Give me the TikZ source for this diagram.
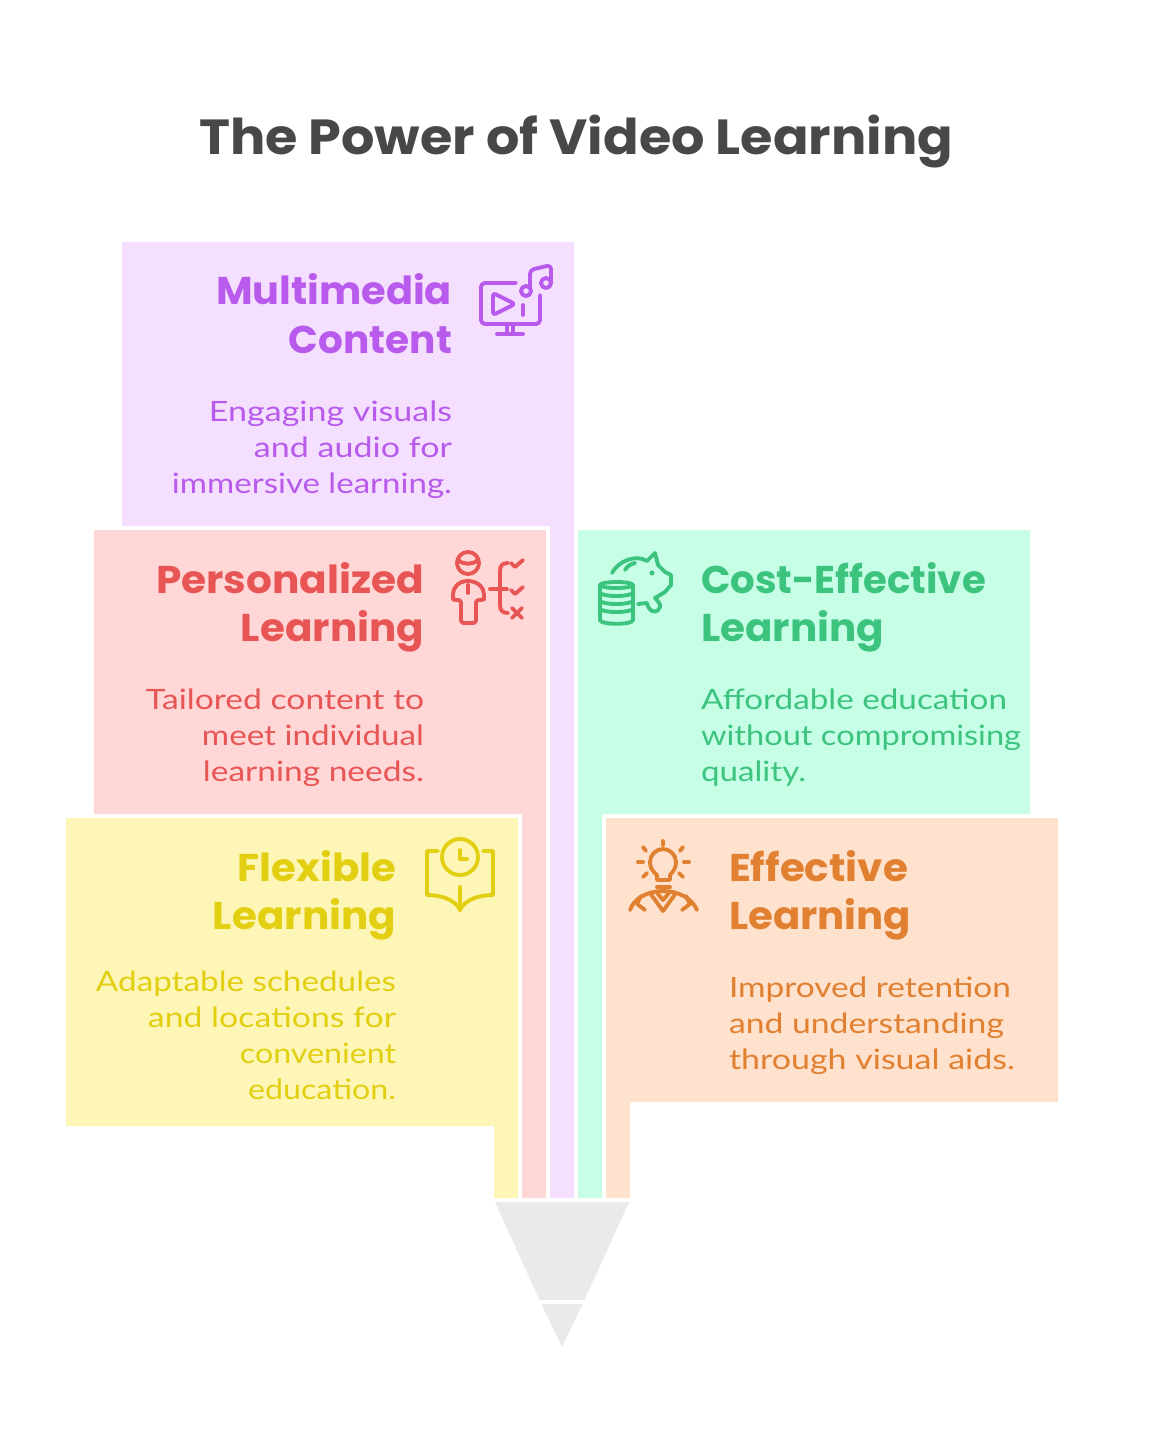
\documentclass[tikz,border=0pt]{standalone}
\usepackage{fontspec}
\usepackage{graphicx}
\newfontfamily\headfont{Poppins}[BoldFont={Poppins Bold}]
\newfontfamily\bodyfont{Lato}
\newdimen\pxu \pxu=0.75pt
\newcommand{\fitw}[2]{\resizebox{#1\pxu}{\height}{#2}}
\definecolor{cpurpleF}{HTML}{F4E0FE}\definecolor{cpurple}{HTML}{B85AEB}
\definecolor{credF}{HTML}{FFD7D7}\definecolor{cred}{HTML}{E85555}
\definecolor{cyellowF}{HTML}{FEF6B6}\definecolor{cyellow}{HTML}{E2CF12}
\definecolor{cgreenF}{HTML}{C6FFE6}\definecolor{cgreen}{HTML}{3CC47F}
\definecolor{corangeF}{HTML}{FFE2CD}\definecolor{corange}{HTML}{E08030}
\definecolor{ctitle}{HTML}{484848}\definecolor{cfunnel}{HTML}{EAEAEA}
\tikzset{
 txt/.style={inner sep=0pt,outer sep=0pt},
 head/.style={txt,font=\headfont\bfseries\fontsize{29}{29}\selectfont},
 body/.style={txt,font=\bodyfont\fontsize{21}{21}\selectfont},
 ttl/.style={txt,font=\headfont\bfseries\fontsize{37}{37}\selectfont,text=ctitle},
 icon/.style={line width=2.9pt,line cap=round,line join=round,fill=none},
}
\begin{document}
\begin{tikzpicture}[x=0.75pt,y=-0.75pt]
\useasboundingbox (0,0) rectangle (1152,1448);
\fill[white] (0,0) rectangle (1152,1448);
% panels
\fill[cpurpleF] (122,242)--(574,242)--(574,1198)--(550,1198)--(550,526)--(122,526)--cycle;
\fill[credF] (94,530)--(546,530)--(546,1198)--(522,1198)--(522,814)--(94,814)--cycle;
\fill[cyellowF] (66,818)--(518,818)--(518,1198)--(494,1198)--(494,1126)--(66,1126)--cycle;
\fill[cgreenF] (578,530)--(1030,530)--(1030,814)--(602,814)--(602,1198)--(578,1198)--cycle;
\fill[corangeF] (606,818)--(1058,818)--(1058,1102)--(630,1102)--(630,1198)--(606,1198)--cycle;
% funnel
\fill[cfunnel] (495,1202)--(629,1202)--(584.5,1300)--(539.5,1300)--cycle;
\fill[cfunnel] (541.5,1304)--(582.5,1304)--(562,1347)--cycle;
% title
\node[ttl,anchor=base west] (title) at (199,155) {\fitw{754}{The Power of Video Learning}};
% purple text
\begin{scope}[text=cpurple]
\node[head,anchor=base east] (p1) at (452,305) {\fitw{236}{Multimedia}};
\node[head,anchor=base east] (p2) at (452,353) {\fitw{163}{Content}};
\node[body,anchor=base east] (p3) at (452,421) {\fitw{243}{Engaging visuals}};
\node[body,anchor=base east] (p4) at (452,457) {\fitw{198}{and audio for}};
\node[body,anchor=base east] (p5) at (452,493) {\fitw{280}{immersive learning.}};
\end{scope}
% red text
\begin{scope}[text=cred]
\node[head,anchor=base east] (r1) at (424,593) {\fitw{268}{Personalized}};
\node[head,anchor=base east] (r2) at (424,641) {\fitw{183}{Learning}};
\node[body,anchor=base east] (r3) at (424,709) {\fitw{278}{Tailored content to}};
\node[body,anchor=base east] (r4) at (424,745) {\fitw{222}{meet individual}};
\node[body,anchor=base east] (r5) at (424,781) {\fitw{221}{learning needs.}};
\end{scope}
% yellow text
\begin{scope}[text=cyellow]
\node[head,anchor=base east] (y1) at (396,881) {\fitw{158}{Flexible}};
\node[head,anchor=base east] (y2) at (396,929) {\fitw{183}{Learning}};
\node[body,anchor=base east] (y3) at (396,991) {\fitw{300}{Adaptable schedules}};
\node[body,anchor=base east] (y4) at (396,1027) {\fitw{248}{and locations for}};
\node[body,anchor=base east] (y5) at (396,1063) {\fitw{156}{convenient}};
\node[body,anchor=base east] (y6) at (396,1099) {\fitw{148}{education.}};
\end{scope}
% green text
\begin{scope}[text=cgreen]
\node[head,anchor=base west] (g1) at (701,593) {\fitw{285}{Cost-Effective}};
\node[head,anchor=base west] (g2) at (701,641) {\fitw{183}{Learning}};
\node[body,anchor=base west] (g3) at (701,709) {\fitw{306}{Affordable education}};
\node[body,anchor=base west] (g4) at (701,745) {\fitw{320}{without compromising}};
\node[body,anchor=base west] (g5) at (701,781) {\fitw{105}{quality.}};
\end{scope}
% orange text
\begin{scope}[text=corange]
\node[head,anchor=base west] (o1) at (729,881) {\fitw{179}{Effective}};
\node[head,anchor=base west] (o2) at (729,929) {\fitw{182}{Learning}};
\node[body,anchor=base west] (o3) at (729,997) {\fitw{282}{Improved retention}};
\node[body,anchor=base west] (o4) at (729,1033) {\fitw{275}{and understanding}};
\node[body,anchor=base west] (o5) at (729,1069) {\fitw{286}{through visual aids.}};
\end{scope}
% purple icon
\begin{scope}[icon,draw=cpurple]
\draw[rounded corners=3pt] (516,283)--(481,283)--(481,324)--(540,324)--(540,295);
\draw[rounded corners=2pt] (493,293)--(493,315)--(515,304)--cycle;
\draw (523,305)--(523,315);
\draw (507,325)--(507,333) (513,325)--(513,333);
\draw (497,334)--(523,334);
\draw (526,291) circle[radius=5];
\draw (546,283) circle[radius=5];
\draw[rounded corners=3pt] (530,288)--(530,270)--(551,265)--(551,283);
\end{scope}
% red icon
\begin{scope}[icon,draw=cred]
\draw (468,563) circle[radius=11];
\draw (458,560) .. controls (464,565) and (472,565) .. (478,560);
\draw[rounded corners=2pt] (468,581) .. controls (458,581) and (453,588) .. (453,597)--(453,600)--(461,600)--(461,623)--(476,623)--(476,600)--(484,600)--(484,597) .. controls (484,588) and (478,581) .. (468,581);
\draw (468,585)--(468,593);
\draw (508,563) .. controls (502,563) and (500,566) .. (500,571)--(500,605) .. controls (500,610) and (502,613) .. (508,613);
\draw (490,589)--(507,589);
\draw (511,563)--(515,567)--(523,560);
\draw (511,590)--(515,594)--(523,587);
\draw (512,608)--(522,618) (522,608)--(512,618);
\end{scope}
% green icon
\begin{scope}[icon,draw=cgreen]
\draw (616.5,585) ellipse[x radius=16.5,y radius=3];
\draw (600,585)--(600,620) .. controls (600,625) and (633,625) .. (633,620)--(633,585);
\draw (600,593) .. controls (604,597) and (629,597) .. (633,593);
\draw (600,601) .. controls (604,605) and (629,605) .. (633,601);
\draw (600,609) .. controls (604,613) and (629,613) .. (633,609);
\draw (612,573) .. controls (618,561) and (636,554) .. (647,561)--(655,553)--(658,565)--(665,572)--(671,575)--(671,585)--(665,592)--(655,598) .. controls (658,601) and (661,605) .. (660,607) .. controls (658,613) and (652,613) .. (649,608) .. controls (648,606) and (647,605) .. (647,603)--(638,604);
\draw (625,570) .. controls (627,566) and (631,564) .. (635,563);
\fill[cgreen] (652,573) circle[radius=2.5];
\end{scope}
% yellow icon
\begin{scope}[icon,draw=cyellow]
\draw (460,857) circle[radius=18];
\draw (460,850)--(460,859)--(467,859);
\draw (438,851)--(427,851)--(427,895) .. controls (440,895) and (455,899) .. (460,910);
\draw (483,851)--(493,851)--(493,895) .. controls (480,895) and (465,899) .. (460,910);
\draw (460,887)--(460,910);
\end{scope}
% orange icon
\begin{scope}[icon,draw=corange]
\draw (657,880)--(657,875) .. controls (652,871) and (650,867) .. (650,862) .. controls (650,855) and (656,849) .. (663,849) .. controls (670,849) and (676,855) .. (676,862) .. controls (676,867) and (674,871) .. (670,875)--(670,880)--cycle;
\draw (657,887)--(670,887);
\draw (663,841)--(663,845);
\draw (643,847)--(646,851) (683,847)--(680,851);
\draw (638,862)--(643,862) (684,862)--(689,862);
\draw (643,877)--(647,873) (683,877)--(679,873);
\draw (630,910) .. controls (634,898) and (648,891) .. (663,891) .. controls (678,891) and (692,898) .. (697,910);
\draw (650,893)--(663,911)--(676,893);
\draw (657,893)--(663,900)--(669,893);
\draw (641,896)--(637,904)--(645,910);
\draw (686,896)--(690,904)--(682,910);
\end{scope}
\end{tikzpicture}
\end{document}
